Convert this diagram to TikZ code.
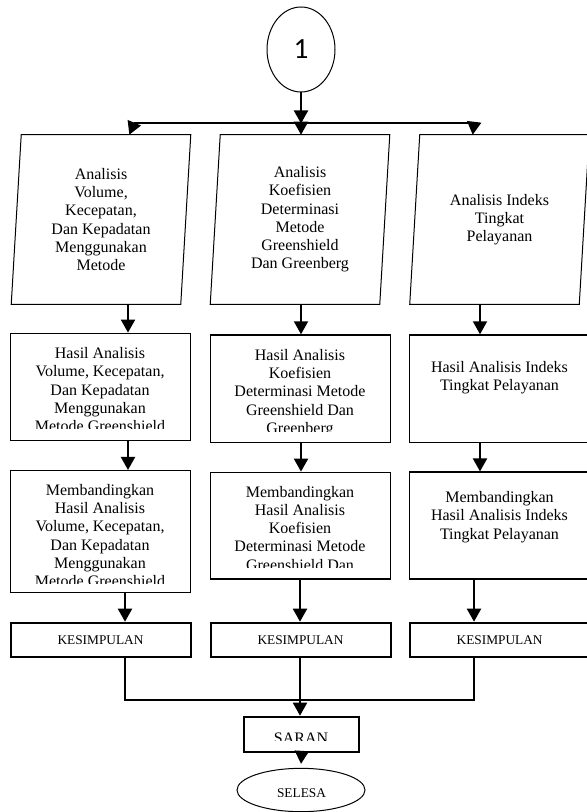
\documentclass[tikz,border=0pt]{standalone}
\usepackage{fontspec}
\setmainfont{Liberation Serif}
\newfontfamily\calibri{Carlito}
\usetikzlibrary{arrows.meta, shapes.geometric, calc}

\begin{document}
\begin{tikzpicture}[x=0.75pt, y=-0.75pt]
      \tikzset{ ln/.style   ={line width=1.5pt} }
      \tikzset{ arr/.style  ={ln, -{Triangle[width=10.5pt, length=9.75pt]}} }
      \tikzset{ para/.style ={minimum width=126.75pt, minimum height=126.75pt, inner sep=0pt, align=center, font=\fontsize{12}{13.7}\selectfont} }
      \tikzset{ slant/.style={draw, line width=0.75pt} }
      \tikzset{ box/.style  ={draw, line width=1.1pt, minimum width=135pt, inner sep=0pt} }
      \tikzset{ kbox/.style ={box, line width=1.5pt, minimum height=25.5pt, font=\fontsize{10}{12}\selectfont} }
      \tikzset{ txt/.style  ={anchor=north, align=center, inner sep=0pt, font=\fontsize{12}{13.7}\selectfont} }
      \tikzset{ conn/.style ={draw, ellipse, line width=0.75pt, minimum width=51pt, minimum height=63.75pt, inner sep=0pt, font=\calibri\fontsize{22}{26}\selectfont} }
      \tikzset{ stop/.style ={draw, ellipse, line width=0.75pt, minimum width=96pt, minimum height=32.5pt, inner sep=0pt} }

      \useasboundingbox (0,0) rectangle (586,812);

      \node[conn] (c1) at (301,49.5) {1};

      \node[para] (A1) at (101,219.5) {Analisis\\Volume,\\Kecepatan,\\Dan Kepadatan\\Menggunakan\\Metode};
      \node[para] (A2) at (300,219.5) {Analisis\\Koefisien\\Determinasi\\Metode\\Greenshield\\Dan Greenberg};
      \node[para] (A3) at (499.5,219.5) {Analisis Indeks\\Tingkat\\Pelayanan};
      \draw[slant] ([xshift=3.75pt]A1.north west) -- ([xshift=3.75pt]A1.north east) -- ([xshift=-3.75pt]A1.south east) -- ([xshift=-3.75pt]A1.south west) -- cycle;
      \draw[slant] ([xshift=3.75pt]A2.north west) -- ([xshift=3.75pt]A2.north east) -- ([xshift=-3.75pt]A2.south east) -- ([xshift=-3.75pt]A2.south west) -- cycle;
      \draw[slant] ([xshift=3.75pt]A3.north west) -- ([xshift=3.75pt]A3.north east) -- ([xshift=-3.75pt]A3.south east) -- ([xshift=-3.75pt]A3.south west) -- cycle;

      \node[box, minimum height=80.5pt] (B1) at (100.5,387)   {};
      \node[box, minimum height=80.5pt] (B2) at (300.5,388.7) {};
      \node[box, minimum height=80.5pt] (B3) at (499.6,388.7) {};
      \node[box, minimum height=91.5pt] (C1) at (100.5,531.7) {};
      \node[box, minimum height=80pt]   (C2) at (300.5,525.7) {};
      \node[box, minimum height=80pt]   (C3) at (499.6,525.5) {};

      \begin{scope}
        \clip ([yshift=9.5pt]B1.south west) rectangle (B1.north east);
        \node[txt] (B1t) at (100,347.3) {Hasil Analisis\\Volume, Kecepatan,\\Dan Kepadatan\\Menggunakan\\Metode Greenshield};
      \end{scope}
      \begin{scope}
        \clip ([yshift=9pt]B2.south west) rectangle (B2.north east);
        \node[txt] (B2t) at (300,349) {Hasil Analisis\\Koefisien\\Determinasi Metode\\Greenshield Dan\\Greenberg};
      \end{scope}
      \node[txt] (B3t) at (499.5,360.7) {Hasil Analisis Indeks\\Tingkat Pelayanan};
      \begin{scope}
        \clip ([yshift=7.5pt]C1.south west) rectangle (C1.north east);
        \node[txt] (C1t) at (100,484) {Membandingkan\\Hasil Analisis\\Volume, Kecepatan,\\Dan Kepadatan\\Menggunakan\\Metode Greenshield};
      \end{scope}
      \begin{scope}
        \clip ([yshift=9pt]C2.south west) rectangle (C2.north east);
        \node[txt] (C2t) at (300,485.7) {Membandingkan\\Hasil Analisis\\Koefisien\\Determinasi Metode\\Greenshield Dan};
      \end{scope}
      \node[txt] (C3t) at (499.5,491.3) {Membandingkan\\Hasil Analisis Indeks\\Tingkat Pelayanan};

      \node[kbox] (K1) at (100.5,639.7) {KESIMPULAN};
      \node[kbox] (K2) at (300.5,639.7) {KESIMPULAN};
      \node[kbox] (K3) at (499.6,639.7) {KESIMPULAN};

      \node[box, line width=1.5pt, minimum width=86.5pt, minimum height=26.25pt] (S) at (301.7,734.2) {};
      \begin{scope}
        \clip ([yshift=9pt]S.south west) rectangle (S.north east);
        \node[txt] (St) at (301,732.5) {SARAN};
      \end{scope}
      \node[stop] (E) at (301,790) {};
      \begin{scope}
        \clip ([yshift=11.5pt]E.south -| E.west) rectangle (E.north -| E.east);
        \node[txt, font=\fontsize{10}{12}\selectfont] (Et) at (301.5,788.3) {SELESA};
      \end{scope}

      \coordinate (busL) at (134,123.5);
      \coordinate (busM) at (301,123.5);
      \coordinate (busR) at (474,123.5);
      \coordinate (ax1)  at (128,0);
      \coordinate (ax2)  at (301,0);
      \coordinate (ax3)  at (480,0);
      \coordinate (bx1)  at (125,0);
      \coordinate (bx2)  at (300,0);
      \coordinate (bx3)  at (474,0);
      \coordinate (mrg)  at (300,700);

      \draw[arr] (c1) -- (busM);
      \draw[ln]  (busL) -- (busR);
      \draw[arr] (busL) -- ([xshift=-3.5pt]A1.north -| busL);
      \draw[arr] (busM) -- (A2.north -| busM);
      \draw[arr] (busR) -- ([xshift=-1pt]A3.north -| busR);

      \draw[arr] (A1.south -| ax1) -- (B1.north -| ax1);
      \draw[arr] (A2.south -| ax2) -- (B2.north -| ax2);
      \draw[arr] (A3.south -| ax3) -- (B3.north -| ax3);
      \draw[arr] (B1.south -| ax1) -- (C1.north -| ax1);
      \draw[arr] (B2.south -| ax2) -- (C2.north -| ax2);
      \draw[arr] (B3.south -| ax3) -- (C3.north -| ax3);
      \draw[arr] (C1.south -| bx1) -- (K1.north -| bx1);
      \draw[arr] (C2.south -| bx2) -- (K2.north -| bx2);
      \draw[arr] (C3.south -| bx3) -- (K3.north -| bx3);

      \draw[ln]  (K1.south -| bx1) |- (mrg) -| (K3.south -| bx3);
      \draw[ln]  (K2.south -| bx2) -- (mrg);
      \draw[arr] (mrg) -- (S.north -| mrg);
      \draw[arr] (S.south) -- ([yshift=3pt]E.north);
\end{tikzpicture}
\end{document}
